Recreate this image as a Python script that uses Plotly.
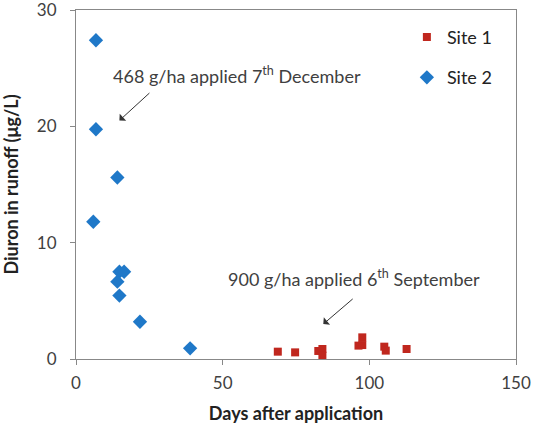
import plotly.graph_objects as go

site1_x = [68.8, 74.7, 82.6, 84.0, 84.0, 96.3, 97.6, 97.6, 105.1, 105.6, 112.7]
site1_y = [0.63, 0.57, 0.69, 0.86, 0.29, 1.15, 1.86, 1.2, 1.06, 0.72, 0.86]
site2_x = [6.8, 6.8, 14.1, 5.9, 14.8, 16.4, 14.1, 14.8, 21.8, 38.9]
site2_y = [27.4, 19.75, 15.6, 11.8, 7.5, 7.5, 6.65, 5.45, 3.2, 0.92]

FONT = "Lato"
TXT = "#404040"
fig = go.Figure()
fig.add_trace(go.Scatter(x=site1_x, y=site1_y, mode="markers", name="Site 1", legendgroup="a",
                         marker=dict(symbol="square", size=8, color="#C0271E")))
fig.add_trace(go.Scatter(x=site2_x, y=site2_y, mode="markers", name="Site 2", legendgroup="b",
                         marker=dict(symbol="diamond", size=11, color="#1F78C8")))

fig.add_annotation(x=14.8, y=20.5, ax=25.2, ay=22.9, xref="x", yref="y", axref="x", ayref="y",
                   text="", font=dict(size=1), borderpad=0,
                   showarrow=True, arrowhead=1, arrowsize=1.6, arrowwidth=1, arrowcolor="#333")
fig.add_annotation(x=84.3, y=3.0, ax=94.5, ay=5.2, xref="x", yref="y", axref="x", ayref="y",
                   text="", font=dict(size=1), borderpad=0,
                   showarrow=True, arrowhead=1, arrowsize=1.6, arrowwidth=1, arrowcolor="#333")
fig.add_annotation(x=11.8, y=24.4, xref="x", yref="y", xanchor="left", yanchor="middle",
                   text="468 g/ha applied 7<sup>th</sup> December", showarrow=False,
                   font=dict(family=FONT, size=18, color=TXT))
fig.add_annotation(x=51.3, y=6.96, xref="x", yref="y", xanchor="left", yanchor="middle",
                   text="900 g/ha applied 6<sup>th</sup> September", showarrow=False,
                   font=dict(family=FONT, size=18, color=TXT))

fig.update_layout(
    width=547, height=432,
    margin=dict(l=76, r=31, t=10, b=73),
    plot_bgcolor="white", paper_bgcolor="white",
    font=dict(family=FONT, size=17, color=TXT),
    showlegend=True,
    legend=dict(x=0.752, y=0.975, xanchor="left", yanchor="top", bgcolor="rgba(0,0,0,0)",
                font=dict(family=FONT, size=18, color="#222"),
                traceorder="grouped", tracegroupgap=14),
    xaxis=dict(range=[0, 150], tickvals=[0, 50, 100, 150], showgrid=False, zeroline=False,
               showline=True, linecolor="#888", mirror=True, ticks="outside", ticklen=5,
               tickcolor="#888", automargin=False, ticklabeloverflow="allow", tickfont=dict(size=17),
               ticklabelstandoff=4,
               title=dict(text="<b>Days after application</b>", font=dict(family=FONT, size=18, color="#222"), standoff=14)),
    yaxis=dict(range=[0, 30], tickvals=[0, 10, 20, 30], showgrid=False, zeroline=False,
               showline=True, linecolor="#888", mirror=True, ticks="outside", ticklen=5,
               tickcolor="#888", automargin=False, ticklabeloverflow="allow", tickfont=dict(size=17),
               ticklabelstandoff=10,
               title=dict(text="<b>Diuron in runoff (μg/L)</b>", font=dict(family=FONT, size=18, color="#222"), standoff=17)),
)
fig.write_html("out.html")
